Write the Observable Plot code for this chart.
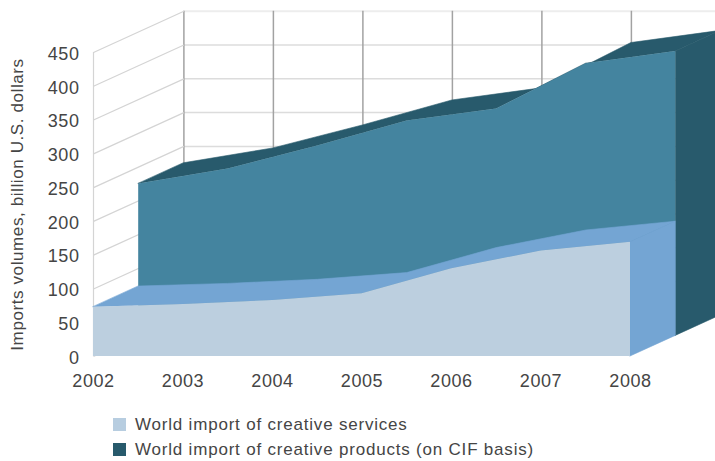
<!DOCTYPE html>
<html>
<head>
<meta charset="utf-8">
<script src="https://cdn.jsdelivr.net/npm/d3@7"></script>
<script src="https://cdn.jsdelivr.net/npm/@observablehq/plot@0.6"></script>
<style>
  html, body { margin: 0; padding: 0; background: #fff; }
  svg { display: block; }
  #legend { padding: 12px 0 0 113px; font: 17px "Liberation Sans", Arial, sans-serif; letter-spacing: 0.8px; color: #454545; }
  #legend .row { display: flex; align-items: center; height: 25px; }
  #legend .sw { width: 13px; height: 13px; margin-right: 9px; }
</style>
</head>
<body>
<div id="chart"></div>
<div id="legend"></div>
<script>
const years = [2002, 2003, 2004, 2005, 2006, 2007, 2008];
const services = [73, 77, 83, 93, 130, 156, 169];
const products = [225, 247, 281, 318, 336, 403, 421];
const yTicks = [0, 50, 100, 150, 200, 250, 300, 350, 400, 450];
const seriesNames = ["World import of creative services", "World import of creative products (on CIF basis)"];

const colors = {
  servicesFront: "#bccfdf",
  servicesEdge: "#74a5d3",
  productsFront: "#44849f",
  productsEdge: "#285a6c",
  legendServices: "#b7cde0",
  text: "#454545"
};

// Oblique projection: each series sits one step deeper, expressed in data units.
const stepX = 0.505;
const stepY = 30.5;
const font = "'Liberation Sans', Arial, sans-serif";

const rows = (values) => years.map((year, i) => ({year, value: values[i]}));

// Top face of a ribbon at the given depth step, with the right-hand cap and front face.
function ribbon(values, depth, front, edge) {
  const data = rows(values);
  const ox = depth * stepX, oy = depth * stepY;
  const last = data[data.length - 1];
  const cap = [0, 1].map((k) => ({
    x: last.year + ox + k * stepX,
    y0: oy + k * stepY,
    y1: last.value + oy + k * stepY
  }));
  return [
    Plot.area(data, {
      x1: (d) => d.year + ox, y1: (d) => d.value + oy,
      x2: (d) => d.year + ox + stepX, y2: (d) => d.value + oy + stepY,
      fill: edge, stroke: edge, strokeWidth: 0.6
    }),
    Plot.area(cap, {x1: "x", y1: "y0", y2: "y1", fill: edge, stroke: edge, strokeWidth: 0.6}),
    Plot.area(data, {
      x1: (d) => d.year + ox, y1: () => oy, y2: (d) => d.value + oy,
      fill: front
    })
  ];
}

const backX = 2 * stepX;
const backY = 2 * stepY;
const wallTicks = yTicks.filter((d) => d > 0 && d < 450);

const chart = Plot.plot({
  width: 715,
  height: 400,
  marginTop: 52,
  marginBottom: 44,
  marginLeft: 93,
  marginRight: 85,
  style: {fontFamily: font, color: colors.text, background: "#fff", letterSpacing: "0.6px"},
  x: {domain: [2002, 2008]},
  y: {domain: [0, 450]},
  marks: [
    // Back wall and side wall
    Plot.ruleY(wallTicks, {y: (d) => d + backY, x1: 2002 + backX, x2: 2010, stroke: "#dcdcdc", strokeWidth: 1.5}),
    Plot.ruleY([450], {y: (d) => d + backY, x1: 2002 + backX, x2: 2010, stroke: "#ededed", strokeWidth: 2}),
    Plot.ruleX(years, {x: (d) => d + backX, y1: backY, y2: 450 + backY, stroke: "#a2a2a2", strokeWidth: 1.5}),
    Plot.link(yTicks, {x1: () => 2002, y1: (d) => d, x2: () => 2002 + backX, y2: (d) => d + backY, stroke: "#d4d4d4", strokeWidth: 1.2}),
    Plot.ruleX([2002], {y1: 0, y2: 450, stroke: "#d4d4d4", strokeWidth: 1.2}),
    // Series, deepest first
    ...ribbon(products, 1, colors.productsFront, colors.productsEdge),
    ...ribbon(services, 0, colors.servicesFront, colors.servicesEdge),
    // Axes
    Plot.axisX({ticks: years, tickFormat: (d) => String(d), tickSize: 0, tickPadding: 18, fontSize: 18, label: null}),
    Plot.axisY({ticks: yTicks, tickSize: 0, tickPadding: 14, fontSize: 18, dy: 1.5, label: null}),
    Plot.text(["Imports volumes, billion U.S. dollars"], {
      frameAnchor: "left", textAnchor: "middle", rotate: -90, dx: -76, fontSize: 17, fill: colors.text
    })
  ]
});
document.getElementById("chart").append(chart);

const swatches = [colors.legendServices, colors.productsEdge];
document.getElementById("legend").innerHTML = seriesNames
  .map((name, i) => `<div class="row"><span class="sw" style="background:${swatches[i]}"></span><span>${name}</span></div>`)
  .join("");
</script>
</body>
</html>
